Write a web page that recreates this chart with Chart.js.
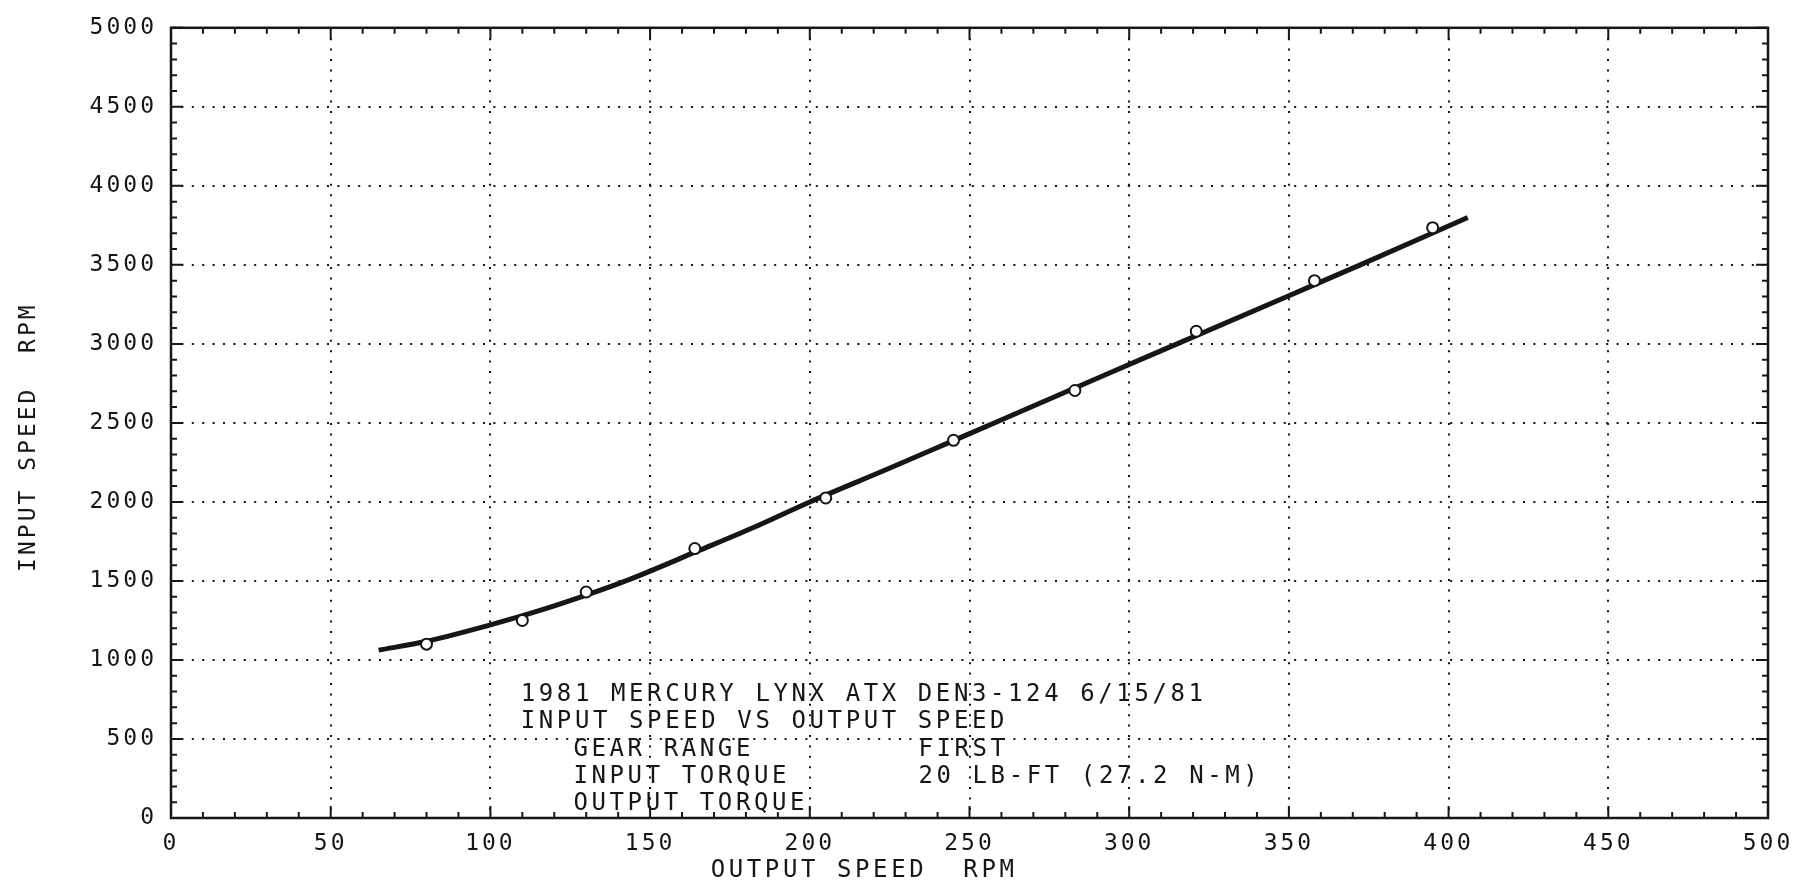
<!DOCTYPE html>
<html>
<head>
<meta charset="utf-8">
<title>Input Speed vs Output Speed</title>
<script src="https://cdn.jsdelivr.net/npm/chart.js@4.4.1/dist/chart.umd.min.js"></script>
<style>
    html, body { margin: 0; padding: 0; background: #fff; }
    .chart-box { position: relative; width: 1811px; height: 889px; }
</style>
</head>
<body>
<div class="chart-box"><canvas id="speedChart"></canvas></div>
<script>
// Smoothed fit line through the test points
const curveX = [65, 80, 100, 115, 130, 143, 165, 182, 200, 224, 245, 259, 292, 315, 350, 372, 406];
const curveY = [1062, 1118, 1222, 1310, 1410, 1505, 1690, 1835, 2000, 2205, 2388, 2510, 2800, 3000, 3305, 3497, 3800];

// Measured points (small circles)
const pointX = [80, 110, 130, 164, 205, 245, 283, 321, 358, 395];
const pointY = [1100, 1250, 1430, 1705, 2025, 2390, 2705, 3080, 3400, 3735];

// Axis ticks
const xTicks = [0, 50, 100, 150, 200, 250, 300, 350, 400, 450, 500];
const yTicks = [0, 500, 1000, 1500, 2000, 2500, 3000, 3500, 4000, 4500, 5000];

// Axis titles
const xTitle = 'OUTPUT SPEED  RPM';
const yTitle = 'INPUT SPEED  RPM';

// Text block inside the plot
const noteTitle = ['1981 MERCURY LYNX ATX DEN3-124 6/15/81', 'INPUT SPEED VS OUTPUT SPEED'];
const noteLabels = ['GEAR RANGE', 'INPUT TORQUE', 'OUTPUT TORQUE'];
const noteValues = ['FIRST', '20 LB-FT (27.2 N-M)', ''];

const FONT = '"DejaVu Sans Mono", "Liberation Mono", monospace';
const INK = '#161616';

// Plotter style frame, inward ticks, axis titles and the caption text
const plotterMarks = {
    id: 'plotterMarks',
    beforeDraw(chart) {
        chart.ctx.letterSpacing = '3px';
    },
    afterDraw(chart) {
        const { ctx, chartArea: a, scales: { x, y } } = chart;
        ctx.save();
        ctx.strokeStyle = INK;
        ctx.lineWidth = 2.5;
        ctx.strokeRect(a.left, a.top, a.right - a.left, a.bottom - a.top);

        // minor every 10 / 100, major at the grid lines
        ctx.lineWidth = 2;
        ctx.beginPath();
        for (let v = 0; v <= 500; v += 10) {
            const px = x.getPixelForValue(v);
            const len = v % 50 === 0 ? 12 : 6;
            ctx.moveTo(px, a.bottom);
            ctx.lineTo(px, a.bottom - len);
            ctx.moveTo(px, a.top);
            ctx.lineTo(px, a.top + len);
        }
        for (let v = 0; v <= 5000; v += 100) {
            const py = y.getPixelForValue(v);
            const len = v % 500 === 0 ? 12 : 6;
            ctx.moveTo(a.left, py);
            ctx.lineTo(a.left + len, py);
            ctx.moveTo(a.right, py);
            ctx.lineTo(a.right - len, py);
        }
        ctx.stroke();

        ctx.fillStyle = INK;
        ctx.font = '24px ' + FONT;
        ctx.letterSpacing = '3.6px';
        ctx.textAlign = 'left';
        ctx.textBaseline = 'alphabetic';
        const rowY = [795, 625, 450, 280, 110];
        noteTitle.forEach((t, i) => {
            ctx.fillText(t, x.getPixelForValue(109.5), y.getPixelForValue(rowY[i]) + 9);
        });
        noteLabels.forEach((t, i) => {
            const py = y.getPixelForValue(rowY[i + 2]) + 9;
            ctx.fillText(t, x.getPixelForValue(126), py);
            if (noteValues[i]) ctx.fillText(noteValues[i], x.getPixelForValue(234), py);
        });

        // axis titles are off centre in the original
        ctx.textAlign = 'center';
        ctx.fillText(xTitle, x.getPixelForValue(217), a.bottom + 59);

        ctx.font = '23px ' + FONT;
        ctx.letterSpacing = '3px';
        ctx.textBaseline = 'middle';
        ctx.translate(29, y.getPixelForValue(2410));
        ctx.rotate(-Math.PI / 2);
        ctx.fillText(yTitle, 0, 0);
        ctx.restore();
    }
};

const ctx = document.getElementById('speedChart').getContext('2d');

new Chart(ctx, {
    type: 'scatter',
    data: {
        datasets: [
            {
                label: 'Measured',
                data: pointX.map((v, i) => ({ x: v, y: pointY[i] })),
                showLine: false,
                pointRadius: 5.5,
                pointBorderWidth: 2,
                pointBorderColor: INK,
                pointBackgroundColor: '#fff',
                order: 0
            },
            {
                label: 'Fit',
                data: curveX.map((v, i) => ({ x: v, y: curveY[i] })),
                showLine: true,
                borderColor: INK,
                borderWidth: 5,
                pointRadius: 0,
                cubicInterpolationMode: 'monotone',
                order: 1
            }
        ]
    },
    options: {
        responsive: true,
        maintainAspectRatio: false,
        animation: false,
        layout: { padding: { left: 0, right: 43, top: 17, bottom: 0 } },
        plugins: {
            legend: { display: false },
            tooltip: { enabled: false }
        },
        scales: {
            x: {
                type: 'linear',
                min: 0,
                max: 500,
                afterBuildTicks: (scale) => { scale.ticks = xTicks.map(v => ({ value: v })); },
                afterFit: (scale) => { scale.height = 71; },
                grid: { color: INK, lineWidth: 2, drawTicks: false },
                border: { display: false, dash: [2, 8.4] },
                ticks: {
                    color: INK,
                    padding: 12,
                    maxRotation: 0,
                    autoSkip: false,
                    font: { family: FONT, size: 23 },
                    callback: (v) => String(v)
                }
            },
            y: {
                type: 'linear',
                min: 0,
                max: 5000,
                afterBuildTicks: (scale) => { scale.ticks = yTicks.map(v => ({ value: v })); },
                afterFit: (scale) => { scale.width = 171; },
                grid: { color: INK, lineWidth: 2, drawTicks: false },
                border: { display: false, dash: [2, 8.4] },
                ticks: {
                    color: INK,
                    padding: 14,
                    autoSkip: false,
                    font: { family: FONT, size: 23 },
                    callback: (v) => String(v)
                }
            }
        }
    },
    plugins: [plotterMarks]
});
</script>
</body>
</html>
